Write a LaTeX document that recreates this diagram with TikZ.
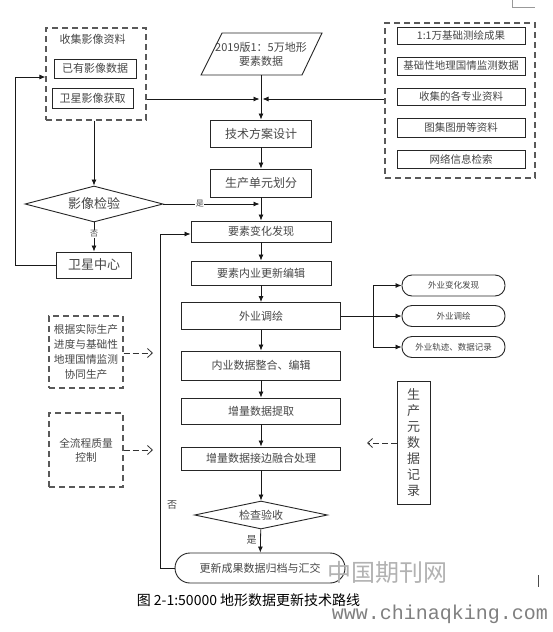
\documentclass[tikz,border=0pt]{standalone}
\usepackage{fontspec}
\setmainfont{Noto Sans CJK SC}
\newfontfamily\monofnt{Liberation Mono}
\usetikzlibrary{shapes.geometric,arrows.meta}
\begin{document}
\begin{tikzpicture}[x=1pt,y=-1pt,
  box/.style={draw=black!85, line width=0.9pt, inner sep=1pt, text=black!72, align=center, font=\fontsize{11}{13}\selectfont},
  bigbox/.style={box, font=\fontsize{12}{14}\selectfont},
  rbox/.style={box, minimum width=128pt, font=\fontsize{10.5}{12}\selectfont},
  stad/.style={box, rounded corners=10pt, minimum width=103pt, minimum height=21pt, font=\fontsize{8.5}{10}\selectfont},
  dia/.style={draw=black!85, line width=0.9pt, diamond, inner sep=0pt, text=black!72},
  dbox/.style={draw=black!65, line width=1.2pt, dash pattern=on 6pt off 4pt, inner sep=0pt, text=black!72, align=center},
  arr/.style={-{Latex[length=6pt,width=5pt]}, line width=0.8pt, draw=black!90},
  ln/.style={line width=0.8pt, draw=black!90},
  darr/.style={draw=black!80, line width=0.9pt, dash pattern=on 6pt off 3pt, -{Straight Barb[length=5pt,width=9pt,line width=0.8pt]}},
  lab/.style={font=\fontsize{8}{9}\selectfont, text=black!72, inner sep=0.5pt}
]
\useasboundingbox (0,0) rectangle (553,632);
\fill[white] (0,0) rectangle (553,632);

% top-right artifact
\draw[black!40, line width=0.5pt] (512,0) -- (512,7) -- (535,7);
\draw[black!70, line width=0.8pt] (538,575) -- (538,587);

% ---------- left collection box ----------
\node[dbox, minimum width=100pt, minimum height=92pt] (sjyx) at (96,74) {};
\node[text=black!72, font=\fontsize{11}{13}\selectfont] (sjyxt) at (92.5,39) {收集影像资料};
\node[box, minimum width=82pt, minimum height=19pt] (yyyx) at (95,68.5) {已有影像数据};
\node[box, minimum width=81pt, minimum height=20pt] (wxyx) at (92.5,98) {卫星影像获取};

% ---------- right collection box ----------
\node[dbox, minimum width=150pt, minimum height=155pt] (rb) at (460,100.5) {};
\node[rbox, minimum height=17pt] (r1) at (461,35.5) {1:1万基础测绘成果};
\node[rbox, minimum height=18pt] (r2) at (461,66) {基础性地理国情监测数据};
\node[rbox, minimum height=17pt] (r3) at (461,96.5) {收集的各专业资料};
\node[rbox, minimum height=19pt] (r4) at (461,127.5) {图集图册等资料};
\node[rbox, minimum height=18pt] (r5) at (461,159) {网络信息检索};

% ---------- parallelogram ----------
\draw[draw=black!85, line width=0.9pt] (222,33) -- (322,33) -- (302,75) -- (201,75) -- cycle;
\node[inner sep=0pt, minimum width=101pt, minimum height=42pt, text=black!72, align=center, font=\fontsize{11}{14}\selectfont] (para) at (261,54) {2019版1：5万地形\\要素数据};

% ---------- central column ----------
\node[bigbox, minimum width=101pt, minimum height=27pt] (jsfa) at (261,133.5) {技术方案设计};
\node[bigbox, minimum width=101pt, minimum height=28pt] (scdy) at (261,183) {生产单元划分};
\node[box, minimum width=140pt, minimum height=21pt] (ysbh) at (261,231.5) {要素变化发现};
\node[box, minimum width=140pt, minimum height=24pt] (ysny) at (261,273) {要素内业更新编辑};
\node[box, minimum width=159pt, minimum height=27pt] (wydh) at (261,316) {外业调绘};
\node[box, minimum width=159pt, minimum height=29pt] (nysj) at (261,365.5) {内业数据整合、编辑};
\node[box, minimum width=159pt, minimum height=26pt] (zlsj) at (261,411) {增量数据提取};
\node[box, minimum width=159pt, minimum height=23pt] (zljb) at (261,458.5) {增量数据接边融合处理};
\node[dia, minimum width=133pt, minimum height=28pt, aspect=4.5, font=\fontsize{11}{13}\selectfont] (jcys) at (261,515) {检查验收};
\node[box, rounded corners=15pt, minimum width=170pt, minimum height=30pt] (gxcg) at (260,568) {更新成果数据归档与汇交};

% ---------- image check ----------
\node[dia, minimum width=138pt, minimum height=36pt, aspect=3.8, font=\fontsize{13}{15}\selectfont] (yxjy) at (94,204) {影像检验};
\node[bigbox, minimum width=75pt, minimum height=26pt, font=\fontsize{13}{15}\selectfont] (wxzx) at (94,265) {卫星中心};

% ---------- field work outputs ----------
\node[stad] (s1) at (453.5,285.5) {外业变化发现};
\node[stad] (s2) at (453.5,316) {外业调绘};
\node[stad] (s3) at (453.5,347) {外业轨迹、数据记录};

% ---------- side dashed notes ----------
\node[dbox, minimum width=74pt, minimum height=72pt, font=\fontsize{10.7}{15}\selectfont] (ld1) at (86,352) {根据实际生产\\进度与基础性\\地理国情监测\\协同生产};
\node[dbox, minimum width=74pt, minimum height=74pt, font=\fontsize{10.7}{14}\selectfont] (ld2) at (86,450) {全流程质量\\控制};
\node[box, minimum width=33pt, minimum height=123pt, font=\fontsize{13}{16}\selectfont] (sc) at (413.5,442.5) {生\\产\\元\\数\\据\\记\\录};

% ---------- coordinates ----------
\coordinate (c0) at (261,99);
\coordinate (c0l) at (259.5,99);
\coordinate (c0r) at (262.5,99);
\coordinate (c1) at (259.5,204);
\coordinate (br) at (373,316);
\coordinate (e1) at (153,353);
\coordinate (e2) at (153,450);
\coordinate (e3) at (367,443);

% ---------- connectors ----------
\draw[arr] (para.south) -- (jsfa.north);
\draw[arr] (sjyx.east |- c0) -- (c0l);
\draw[arr] (rb.west |- c0) -- (c0r);
\draw[arr] (jsfa) -- (scdy);
\draw[arr] (scdy) -- (ysbh);
\draw[arr] (ysbh) -- (ysny);
\draw[arr] (ysny) -- (wydh);
\draw[arr] (wydh) -- (nysj);
\draw[arr] (nysj) -- (zlsj);
\draw[arr] (zlsj) -- (zljb);
\draw[arr] (zljb) -- (jcys);
\draw[arr] (jcys) -- node[lab, left=3pt, font=\fontsize{10}{11}\selectfont, pos=0.45] {是} (gxcg);

\draw[arr] (yxjy.north |- sjyx.south) -- (yxjy.north);
\draw[arr] (yxjy.east) -- node[lab, fill=white, pos=0.38] {是} (c1);
\draw[arr] (yxjy.south) -- node[lab, fill=white, pos=0.4] {否} (wxzx.north);
\draw[arr] (wxzx.west) -- (15,265) |- ([yshift=-3pt]sjyx.west);

\draw[arr] (gxcg.west) -- (160,568) |- ([yshift=-2.5pt]ysbh.west);
\node[lab, font=\fontsize{10}{11}\selectfont] (no2) at (172,505) {否};

\draw[ln] (wydh.east) -- (br);
\draw[arr] (br) |- (s1.west);
\draw[arr] (br) -- (s2.west);
\draw[arr] (br) |- (s3.west);

\draw[darr] (ld1.east |- e1) -- (e1);
\draw[darr] (ld2.east |- e2) -- (e2);
\draw[darr] (sc.west |- e3) -- (e3);

% ---------- caption ----------
\node[font=\fontsize{14}{16}\selectfont, text=black] (cap) at (248.5,600) {图 2-1:50000 地形数据更新技术路线};

% ---------- watermark ----------
\node[font=\fontsize{24}{26}\selectfont, text=black!30] (wm1) at (387,572) {中国期刊网};
\node[font=\monofnt\fontsize{20}{22}\selectfont, text=black!50] (wm2) at (440,614) {www.chinaqking.com};
\end{tikzpicture}
\end{document}
